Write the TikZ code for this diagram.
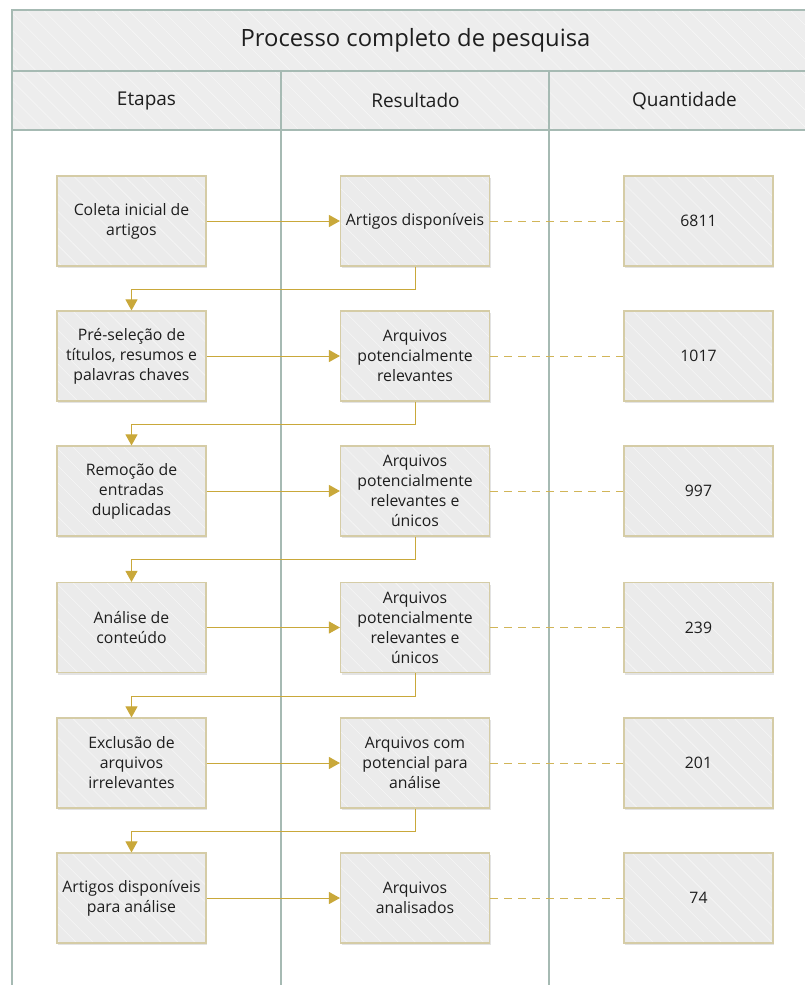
\documentclass[tikz,border=0pt]{standalone}
\usepackage{fontspec}
\setmainfont{Open Sans}
\usetikzlibrary{arrows.meta,patterns.meta,shadows}

\definecolor{laneline}{HTML}{A6BAB3}
\definecolor{hdrfill}{HTML}{EDEDED}
\definecolor{boxfill}{HTML}{EBEBEB}
\definecolor{hatchline}{HTML}{F6F6F6}
\definecolor{boxline}{HTML}{D5CCA6}
\definecolor{gold}{HTML}{C9A83A}
\definecolor{ink}{HTML}{1E1E1E}

\tikzset{
  hatch/.style={pattern={Lines[angle=-45,distance=12pt,line width=0.6pt]},pattern color=hatchline},
  lane/.style={draw=laneline,line width=1.4pt,preaction={fill=hdrfill},hatch},
  laneedge/.style={draw=laneline,line width=1.4pt},
  stepbox/.style={draw=boxline,line width=1.1pt,minimum width=149pt,minimum height=90pt,
    inner sep=1pt,align=center,text=ink,font=\fontsize{15.8}{20}\selectfont,
    drop shadow={opacity=0.22,shadow xshift=1.2pt,shadow yshift=-2.2pt},
    preaction={fill=boxfill},hatch},
  flow/.style={draw=gold,line width=1pt,-{Triangle[length=11pt,width=12pt]}},
  dashline/.style={draw=gold!85,line width=1pt,dash pattern=on 8pt off 6pt},
  headtext/.style={text=ink,font=\fontsize{19}{22}\selectfont},
}

\begin{document}
\begin{tikzpicture}[x=1pt,y=-1pt]
\useasboundingbox (0,0) rectangle (805,985);
\begin{scope}
\clip (0,0) rectangle (805,985);
% swimlane frame
\path[lane] (12,10) rectangle (810,71);
\path[lane] (12,71) rectangle (281,130);
\path[lane] (281,71) rectangle (549,130);
\path[lane] (549,71) rectangle (810,130);
\draw[laneedge] (12,130) -- (12,990);
\draw[laneedge] (281,130) -- (281,990);
\draw[laneedge] (549,130) -- (549,990);
\draw[laneedge] (806,130) -- (806,990);
\end{scope}
\node[text=ink,font=\fontsize{23.8}{28}\selectfont] (title) at (415.5,40) {Processo completo de pesquisa};
\node[headtext] (h1) at (146.5,100.5) {Etapas};
\node[headtext] (h2) at (415.5,100.5) {Resultado};
\node[headtext] (h3) at (684.5,100.5) {Quantidade};

% stages
\node[stepbox] (e1) at (131.5,221) {Coleta inicial de\\artigos};
\node[stepbox] (e2) at (131.5,356) {Pré-seleção de\\títulos, resumos e\\palavras chaves};
\node[stepbox] (e3) at (131.5,491) {Remoção de\\entradas\\duplicadas};
\node[stepbox] (e4) at (131.5,627.5) {Análise de\\conteúdo};
\node[stepbox] (e5) at (131.5,763) {Exclusão de\\arquivos\\irrelevantes};
\node[stepbox] (e6) at (131.5,898) {Artigos disponíveis\\para análise};

% results
\node[stepbox] (r1) at (415,221) {Artigos disponíveis};
\node[stepbox] (r2) at (415,356) {Arquivos\\potencialmente\\relevantes};
\node[stepbox] (r3) at (415,491) {Arquivos\\potencialmente\\relevantes e\\únicos};
\node[stepbox] (r4) at (415,627.5) {Arquivos\\potencialmente\\relevantes e\\únicos};
\node[stepbox] (r5) at (415,763) {Arquivos com\\potencial para\\análise};
\node[stepbox] (r6) at (415,898) {Arquivos\\analisados};

% quantities
\node[stepbox] (q1) at (698.5,221) {6811};
\node[stepbox] (q2) at (698.5,356) {1017};
\node[stepbox] (q3) at (698.5,491) {997};
\node[stepbox] (q4) at (698.5,627.5) {239};
\node[stepbox] (q5) at (698.5,763) {201};
\node[stepbox] (q6) at (698.5,898) {74};

% stage -> result
\foreach \i in {1,...,6} {
  \draw[flow] (e\i) -- (r\i);
  \draw[dashline] (r\i) -- (q\i);
}
% result -> next stage
\foreach \i/\j in {1/2,2/3,3/4,4/5,5/6} {
  \draw[flow] (r\i.south) -- ++(0,23) -| (e\j.north);
}
\end{tikzpicture}
\end{document}
